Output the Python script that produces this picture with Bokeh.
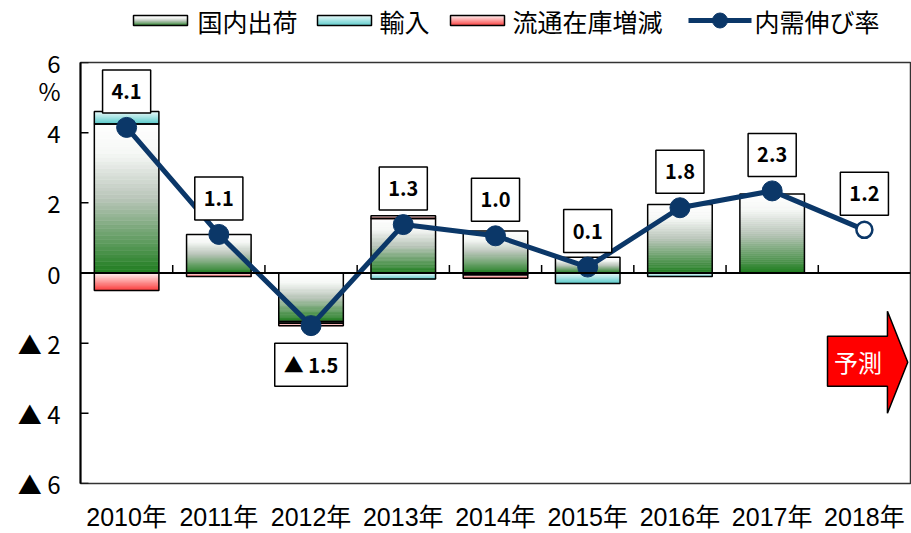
import numpy as np
from bokeh.plotting import figure
from bokeh.models import Range1d, Label, Span, FixedTicker
from bokeh.layouts import column
from bokeh.embed import file_html
from bokeh.resources import INLINE
from bokeh.core.properties import value

# ---------------- data ----------------
years = ["2010年", "2011年", "2012年", "2013年", "2014年", "2015年", "2016年", "2017年", "2018年"]
domestic = [4.25, 1.1, -1.38, 1.55, 1.2, 0.45, 1.95, 2.25, 0.0]      # 国内出荷
imports = [0.35, 0.0, -0.05, -0.17, -0.05, -0.3, -0.1, 0.0, 0.0]     # 輸入
inventory = [-0.5, -0.1, -0.07, 0.08, -0.1, 0.0, 0.0, 0.0, 0.0]      # 流通在庫増減
demand_growth = [4.15, 1.1, -1.5, 1.38, 1.06, 0.17, 1.86, 2.34, 1.23]  # 内需伸び率
growth_labels = ["4.1", "1.1", "▲ 1.5", "1.3", "1.0", "0.1", "1.8", "2.3", "1.2"]
forecast = [False, False, False, False, False, False, False, False, True]
series_names = ["国内出荷", "輸入", "流通在庫増減", "内需伸び率"]
y_ticks = [-6, -4, -2, 0, 2, 4, 6]
y_tick_labels = ["▲ 6", "▲ 4", "▲ 2", "0", "2", "4", "6"]
unit_label = "%"
unit_label_pos = 5.2
forecast_text = "予測"

# ---------------- styles ----------------
JP = "Noto Sans CJK JP"
NAVY = "#0b3768"
grad_green = [(0.0, (255, 255, 255)), (0.2, (245, 247, 245)), (0.5, (185, 197, 185)), (1.0, (30, 125, 30))]
grad_cyan = [(0.0, (230, 250, 250)), (1.0, (85, 200, 200))]
grad_red = [(0.0, (255, 238, 238)), (1.0, (250, 55, 55))]
grads = [grad_green, grad_cyan, grad_red]


def interp(stops, t):
    for (t0, c0), (t1, c1) in zip(stops[:-1], stops[1:]):
        if t <= t1:
            f = (t - t0) / (t1 - t0) if t1 > t0 else 0
            return "#%02x%02x%02x" % tuple(int(round(a + (b - a) * f)) for a, b in zip(c0, c1))
    return "#%02x%02x%02x" % stops[-1][1]


def gradient_slices(left, right, bottom, top, stops, n=40):
    L, R, B, T, C = [], [], [], [], []
    for k in range(n):
        b = bottom + (top - bottom) * k / n
        t = bottom + (top - bottom) * (k + 1) / n
        L.append(left); R.append(right); B.append(b); T.append(t)
        C.append(interp(stops, 1 - (k + 0.5) / n))
    return L, R, B, T, C


W, H = 911, 533
LEG_H = 40
FRAME_TOP = 62
BORDER_L, BORDER_R = 80, 1

# ---------------- main figure ----------------
p = figure(width=W, height=H - LEG_H, x_range=Range1d(-0.5, 8.5), y_range=Range1d(-6, 6),
           output_backend="svg", toolbar_location=None,
           min_border_left=BORDER_L, min_border_right=BORDER_R,
           min_border_top=FRAME_TOP - LEG_H, min_border_bottom=50)
p.background_fill_color = "white"
p.border_fill_color = "white"
p.outline_line_color = "#333333"
p.outline_line_width = 1.5
p.xgrid.visible = False
p.ygrid.visible = False

xs = list(range(len(years)))
half_w = 0.35

seg_l, seg_r, seg_b, seg_t = [], [], [], []
gl, gr, gb, gt, gc = [], [], [], [], []
for i in xs:
    pos, neg = 0.0, 0.0
    for s, vals in enumerate([domestic, imports, inventory]):
        v = vals[i]
        if v > 0:
            b, t = pos, pos + v
            pos += v
        elif v < 0:
            b, t = neg + v, neg
            neg += v
        else:
            continue
        L, R, B, T, C = gradient_slices(i - half_w, i + half_w, b, t, grads[s])
        gl += L; gr += R; gb += B; gt += T; gc += C
        seg_l.append(i - half_w); seg_r.append(i + half_w); seg_b.append(b); seg_t.append(t)

p.quad(left=gl, right=gr, bottom=gb, top=gt, fill_color=gc, line_color=gc, line_width=0.6)
p.quad(left=seg_l, right=seg_r, bottom=seg_b, top=seg_t, fill_color=None,
       line_color="black", line_width=1.5)

# zero line and category boundary ticks
p.add_layout(Span(location=0, dimension="width", line_color="black", line_width=2))
bx = [i + 0.5 for i in xs[:-1]]
p.segment(x0=bx, y0=[0] * len(bx), x1=bx, y1=[0.23] * len(bx), line_color="black", line_width=1.5)

# inward y ticks
px_per_x = (W - BORDER_L - BORDER_R) / 9.0
p.segment(x0=[-0.5] * len(y_ticks), y0=y_ticks, x1=[-0.5 + 8 / px_per_x] * len(y_ticks), y1=y_ticks,
          line_color="black", line_width=1.5)

# demand growth line
p.line(xs, demand_growth, line_color=NAVY, line_width=5)
ax = [x for x, f in zip(xs, forecast) if not f]
ay = [y for y, f in zip(demand_growth, forecast) if not f]
fx = [x for x, f in zip(xs, forecast) if f]
fy = [y for y, f in zip(demand_growth, forecast) if f]
p.scatter(ax, ay, size=20, fill_color=NAVY, line_color=NAVY)
p.scatter(fx, fy, size=16, fill_color="white", line_color=NAVY, line_width=2.5)

# value labels
for x, y, t in zip(xs, demand_growth, growth_labels):
    pad = (9, 7) if "▲" in t else (9, 14)
    p.add_layout(Label(x=x, y=y, text=t, x_offset=0, y_offset=36 if y >= 0 else -39,
                       text_align="center", text_baseline="middle",
                       text_font=JP, text_font_style="bold", text_font_size="20px",
                       text_color="black", background_fill_color="white",
                       border_line_color="black", border_line_width=1.5, padding=pad))

# forecast arrow
arrow_x = [7.6, 8.25, 8.25, 8.47, 8.25, 8.25, 7.6]
arrow_y = [-1.8, -1.8, -1.09, -2.545, -4.0, -3.23, -3.23]
p.patch(arrow_x, arrow_y, fill_color="#ff0000", line_color="black", line_width=1.5)
p.text(x=[7.93], y=[-2.52], text=[forecast_text], text_color="white", text_font=value(JP),
       text_font_size="24px", text_align="center", text_baseline="middle")

# axes
yt = y_ticks + [unit_label_pos]
p.yaxis.ticker = FixedTicker(ticks=yt)
ov = {t: l for t, l in zip(y_ticks, y_tick_labels)}
ov[unit_label_pos] = unit_label
p.yaxis.major_label_overrides = ov
p.yaxis.major_tick_in = 0
p.yaxis.major_tick_out = 0
p.yaxis.major_tick_line_color = None
p.yaxis.minor_tick_line_color = None
p.yaxis.axis_line_width = 2
p.yaxis.axis_line_color = "black"
p.yaxis.major_label_standoff = 20
p.yaxis.major_label_text_font = JP
p.yaxis.major_label_text_font_size = "24px"
p.yaxis.major_label_text_color = "black"

p.xaxis.ticker = FixedTicker(ticks=xs)
p.xaxis.major_label_overrides = {i: y for i, y in zip(xs, years)}
p.xaxis.axis_line_color = None
p.xaxis.major_tick_line_color = None
p.xaxis.minor_tick_line_color = None
p.xaxis.major_tick_in = 0
p.xaxis.major_tick_out = 0
p.xaxis.major_label_standoff = 19
p.xaxis.major_label_text_font = "Liberation Sans, Noto Sans CJK JP"
p.xaxis.major_label_text_font_size = "25px"
p.xaxis.major_label_text_color = "black"

# ---------------- legend figure ----------------
leg = figure(width=W, height=LEG_H, x_range=Range1d(BORDER_L, W - BORDER_R), y_range=Range1d(0, LEG_H),
             output_backend="svg", toolbar_location=None,
             min_border_left=BORDER_L, min_border_right=BORDER_R, min_border_top=0, min_border_bottom=0)
leg.axis.visible = False
leg.xgrid.visible = False
leg.ygrid.visible = False
leg.outline_line_color = None
leg.background_fill_color = "white"
leg.border_fill_color = "white"

# legend layout (page pixels)
sw_left = [133, 317, 450]
sw_w = 54
sw_top, sw_bot = LEG_H - 15, LEG_H - 25
line_x = [688, 751]
text_left = [197, 379, 512, 754]
text_y = LEG_H - 20
for k in range(3):
    L, R, B, T, C = gradient_slices(sw_left[k], sw_left[k] + sw_w, sw_bot, sw_top, grads[k], n=12)
    leg.quad(left=L, right=R, bottom=B, top=T, fill_color=C, line_color=C, line_width=0.6)
    leg.quad(left=[sw_left[k]], right=[sw_left[k] + sw_w], bottom=[sw_bot], top=[sw_top],
             fill_color=None, line_color="black", line_width=1.5)
leg.line(line_x, [text_y] * 2, line_color=NAVY, line_width=5)
leg.scatter([sum(line_x) / 2], [text_y], size=15, fill_color=NAVY, line_color=NAVY)
leg.text(x=text_left, y=[text_y] * 4, text=series_names, text_font=value(JP), text_font_size="25px",
         text_color="black", text_align="left", text_baseline="middle")

layout = column(leg, p, spacing=0)
open("out.html", "w").write(file_html(layout, INLINE))
